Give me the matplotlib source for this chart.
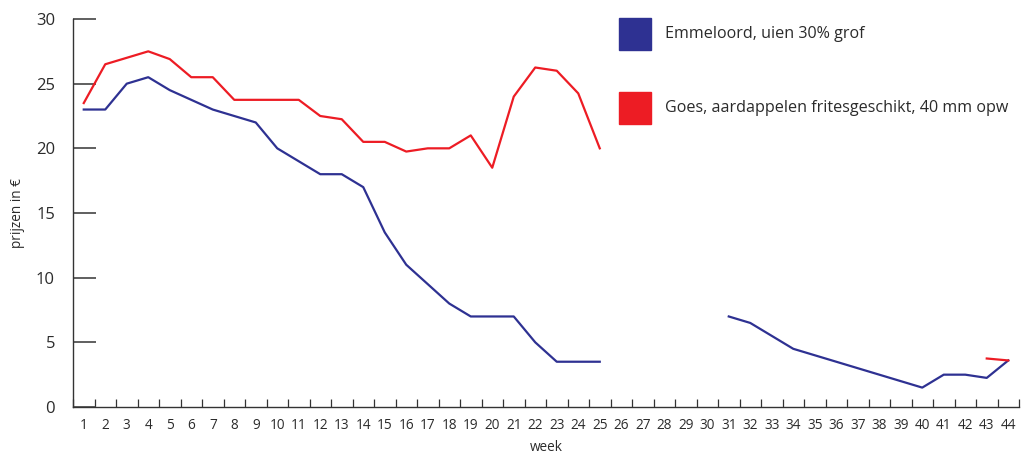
import numpy as np
import matplotlib.pyplot as plt
from matplotlib.patches import Rectangle

plt.rcParams['font.family'] = ['Open Sans', 'DejaVu Sans']

weeks = np.arange(1, 45)
nan = np.nan

# Emmeloord, uien 30% grof
emmeloord = [23, 23, 25, 25.5, 24.5, 23.75, 23, 22.5, 22, 20,
             19, 18, 18, 17, 13.5, 11, 9.5, 8, 7, 7,
             7, 5, 3.5, 3.5, 3.5, nan, nan, nan, nan, nan,
             7, 6.5, 5.5, 4.5, 4.0, 3.5, 3.0, 2.5, 2.0, 1.5,
             2.5, 2.5, 2.25, 3.6]

# Goes, aardappelen fritesgeschikt, 40 mm opw
goes = [23.5, 26.5, 27, 27.5, 26.9, 25.5, 25.5, 23.75, 23.75, 23.75,
        23.75, 22.5, 22.25, 20.5, 20.5, 19.75, 20, 20, 21, 18.5,
        24, 26.25, 26, 24.25, 20, nan, nan, nan, nan, nan,
        nan, nan, nan, nan, nan, nan, nan, nan, nan, nan,
        nan, nan, 3.75, 3.6]

labels = ['Emmeloord, uien 30% grof', 'Goes, aardappelen fritesgeschikt, 40 mm opw']
colors = ['#2e3192', '#ed1c24']
txt = '#2b2b2b'

fig = plt.figure(figsize=(10.22, 4.57), dpi=100)
ax = fig.add_axes([73/1022, 50/457, 946/1022, 388/457])

ax.plot(weeks, emmeloord, color=colors[0], lw=1.6)
ax.plot(weeks, goes, color=colors[1], lw=1.6)

ax.set_xlim(0.5, 44.5)
ax.set_ylim(0, 30)
ax.set_yticks(range(0, 31, 5))

# week labels centred, ticks on bin edges
ax.set_xticks(weeks)
ax.set_xticklabels([str(w) for w in weeks], fontsize=9.8, color=txt)
ax.tick_params(axis='x', length=0, pad=8)
ax.set_xticks(np.arange(0.5, 45, 1), minor=True)
ax.tick_params(axis='x', which='minor', direction='in', length=6,
               width=0.9, color='#333333')
ax.tick_params(axis='y', direction='in', length=16.5, width=1.2,
               color='#444444', labelsize=12, labelcolor=txt, pad=13)
ax.get_yticklines()[-2].set_color('#777777')

for s in ['top', 'right']:
    ax.spines[s].set_visible(False)
for s in ['left', 'bottom']:
    ax.spines[s].set_color('#333333')
    ax.spines[s].set_linewidth(1.0)

ax.set_ylabel('prijzen in €', fontsize=9.8, color=txt, labelpad=8)
ax.set_xlabel('week', fontsize=9.8, color=txt, labelpad=5)

# legend as coloured squares with text
for i, (lab, c) in enumerate(zip(labels, colors)):
    y0 = 1 - (50 + 74*i)/457
    fig.patches.append(Rectangle((619/1022, y0), 32/1022, 32/457,
                                 transform=fig.transFigure, color=c))
    fig.text(665/1022, y0 + 16/457, lab, fontsize=11.6, color=txt,
             va='center', ha='left')

fig.savefig('out.png', dpi=100)
